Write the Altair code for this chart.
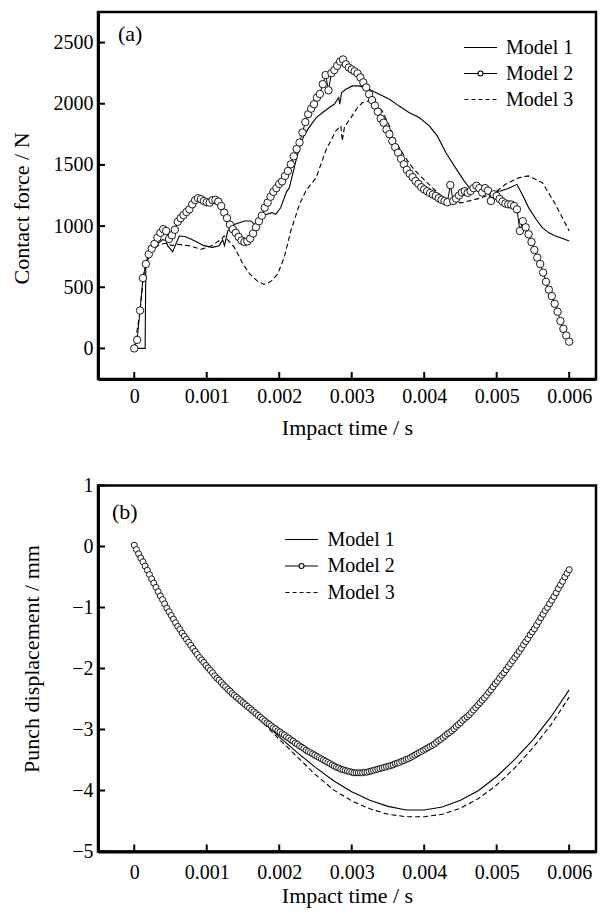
import altair as alt
import pandas as pd

FONT = "Liberation Serif"
models = ["Model 1", "Model 2", "Model 3"]
x_ticks = [0, 0.001, 0.002, 0.003, 0.004, 0.005, 0.006]
fa_ticks = [0, 500, 1000, 1500, 2000, 2500]
db_ticks = [-5, -4, -3, -2, -1, 0, 1]

# ---------- panel (a): contact force (N), time in ms ----------
m1a_t = [0, 0.15, 0.16, 0.23, 0.34, 0.39, 0.44, 0.46, 0.53, 0.62, 0.70, 0.78, 0.87, 0.96,
         1.08, 1.17, 1.22, 1.245, 1.29, 1.38, 1.52, 1.61, 1.66, 1.72, 1.80, 1.90, 1.95,
         2.02, 2.10, 2.14, 2.23, 2.28, 2.34, 2.41, 2.51, 2.60, 2.69, 2.76, 2.82, 2.835,
         2.86, 2.92, 3.01, 3.10, 3.24, 3.38, 3.52, 3.65, 3.79, 3.93, 4.07, 4.18, 4.30,
         4.43, 4.55, 4.64, 4.75, 4.85, 4.95, 5.05, 5.15, 5.28, 5.36, 5.44, 5.55, 5.63,
         5.72, 5.81, 5.90, 6.00]
m1a_f = [0, 0, 700, 810, 864, 890, 880, 840, 791, 919, 915, 895, 868, 840,
         826, 840, 887, 840, 960, 1014, 1042, 1042, 1014, 1020, 1090, 1110, 1096,
         1150, 1280, 1314, 1533, 1642, 1737, 1805, 1887, 1928, 1969, 1996, 2051, 1996,
         2092, 2119, 2146, 2146, 2119, 2078, 2037, 1983, 1928, 1887, 1819, 1737, 1600,
         1478, 1370, 1300, 1285, 1275, 1280, 1287, 1305, 1341, 1250, 1151, 1050, 987,
         945, 919, 900, 878]

m3a_t = [0, 0.08, 0.12, 0.16, 0.25, 0.35, 0.45, 0.52, 0.60, 0.78, 0.92, 1.06, 1.20, 1.24,
         1.38, 1.50, 1.59, 1.70, 1.79, 1.89, 1.98, 2.07, 2.16, 2.28, 2.37, 2.51, 2.64,
         2.78, 2.85, 2.87, 2.90, 2.99, 3.08, 3.15, 3.24, 3.33, 3.42, 3.52, 3.61, 3.74,
         3.85, 3.97, 4.16, 4.34, 4.53, 4.80, 4.98, 5.12, 5.31, 5.44, 5.63, 5.81, 6.00]
m3a_f = [0, 300, 560, 690, 800, 850, 860, 840, 851, 837, 810, 837, 892, 919,
         826, 690, 610, 550, 523, 550, 610, 746, 960, 1178, 1290, 1396, 1614,
         1778, 1819, 1696, 1810, 1887, 1969, 2010, 2024, 1996, 1942, 1819, 1683, 1560,
         1470, 1396, 1287, 1192, 1192, 1233, 1274, 1342, 1396, 1410, 1355, 1178, 960]

m2a_step = 0.04  # ms between Model 2 samples
m2a_f = [0, 70, 310, 575, 690, 770, 815, 855, 905, 945,
         975, 960, 895, 925, 970, 1035, 1065, 1090, 1115, 1137,
         1178, 1212, 1228, 1220, 1205, 1195, 1192, 1212, 1215, 1200,
         1164, 1110, 1065, 1012, 975, 945, 912, 882, 870, 875,
         898, 940, 990, 1040, 1085, 1150, 1192, 1240, 1280, 1310,
         1345, 1365, 1410, 1450, 1505, 1570, 1630, 1683, 1765, 1850,
         1915, 1960, 1996, 2050, 2080, 2160, 2235, 2110, 2250, 2275,
         2310, 2345, 2362, 2323, 2296, 2280, 2265, 2248, 2215, 2175,
         2133, 2078, 2030, 1985, 1935, 1880, 1845, 1790, 1751, 1695,
         1645, 1600, 1550, 1505, 1460, 1428, 1400, 1369, 1345, 1318,
         1300, 1285, 1270, 1258, 1246, 1228, 1215, 1205, 1195, 1335,
         1205, 1225, 1250, 1275, 1285, 1272, 1287, 1310, 1330, 1310,
         1274, 1310, 1290, 1205, 1260, 1246, 1222, 1200, 1185, 1178,
         1176, 1164, 1137, 960, 1040, 990, 933, 870, 805, 742,
         690, 620, 545, 480, 428, 365, 300, 224, 160, 105,
         55]

# ---------- panel (b): punch displacement (mm), time in ms ----------
mb_t = [0, 0.25, 0.5, 0.75, 1.0, 1.25, 1.5, 1.75, 2.0, 2.25, 2.5, 2.75, 3.0, 3.25,
        3.5, 3.75, 4.0, 4.25, 4.5, 4.75, 5.0, 5.25, 5.5, 5.75, 6.0]
m1b_d = [0.06, -0.52, -1.09, -1.56, -1.96, -2.30, -2.58, -2.84, -3.12, -3.38, -3.62,
         -3.84, -4.02, -4.16, -4.26, -4.32, -4.32, -4.27, -4.16, -4.00, -3.77, -3.49,
         -3.17, -2.79, -2.35]
m3b_d = [0.06, -0.52, -1.09, -1.56, -1.96, -2.30, -2.59, -2.86, -3.16, -3.45, -3.74,
         -3.99, -4.17, -4.30, -4.39, -4.43, -4.43, -4.39, -4.29, -4.13, -3.91, -3.63,
         -3.30, -2.92, -2.47]

m2b_step = 0.03  # ms between Model 2 samples
m2b_d = [0.02, -0.05, -0.12, -0.19, -0.25, -0.32, -0.39, -0.46, -0.53, -0.60,
         -0.67, -0.74, -0.81, -0.87, -0.94, -1.01, -1.07, -1.13, -1.19, -1.25,
         -1.31, -1.36, -1.42, -1.47, -1.52, -1.57, -1.62, -1.67, -1.72, -1.77,
         -1.82, -1.86, -1.90, -1.95, -1.99, -2.03, -2.07, -2.12, -2.16, -2.19,
         -2.23, -2.27, -2.30, -2.34, -2.37, -2.41, -2.44, -2.47, -2.50, -2.53,
         -2.56, -2.59, -2.62, -2.65, -2.68, -2.71, -2.74, -2.77, -2.80, -2.83,
         -2.86, -2.89, -2.91, -2.94, -2.97, -2.99, -3.02, -3.04, -3.07, -3.09,
         -3.12, -3.14, -3.17, -3.19, -3.22, -3.24, -3.27, -3.29, -3.31, -3.34,
         -3.36, -3.38, -3.40, -3.42, -3.44, -3.46, -3.48, -3.50, -3.52, -3.54,
         -3.56, -3.58, -3.60, -3.62, -3.63, -3.65, -3.66, -3.67, -3.68, -3.69,
         -3.70, -3.71, -3.71, -3.71, -3.71, -3.71, -3.70, -3.70, -3.69, -3.68,
         -3.67, -3.66, -3.65, -3.64, -3.63, -3.62, -3.61, -3.60, -3.59, -3.58,
         -3.56, -3.55, -3.54, -3.52, -3.51, -3.49, -3.48, -3.46, -3.44, -3.42,
         -3.40, -3.38, -3.36, -3.34, -3.32, -3.30, -3.28, -3.26, -3.24, -3.21,
         -3.18, -3.16, -3.13, -3.10, -3.07, -3.05, -3.02, -2.99, -2.95, -2.92,
         -2.89, -2.85, -2.82, -2.79, -2.76, -2.72, -2.68, -2.64, -2.60, -2.56,
         -2.52, -2.48, -2.44, -2.39, -2.35, -2.30, -2.25, -2.21, -2.16, -2.11,
         -2.07, -2.02, -1.97, -1.92, -1.87, -1.82, -1.77, -1.72, -1.67, -1.61,
         -1.56, -1.51, -1.45, -1.40, -1.35, -1.29, -1.23, -1.17, -1.11, -1.05,
         -1.00, -0.94, -0.88, -0.82, -0.76, -0.69, -0.63, -0.57, -0.50, -0.44,
         -0.38]

panel_labels = ["(a)", "(b)"]

# legend symbols (custom paths): solid line, line with circle, dashed line
P1 = "M-1.65,0H1.65"
P2 = "M-1.65,0H-0.25M0.25,0H1.65M-0.25,0A0.25,0.25,0,1,0,0.25,0A0.25,0.25,0,1,0,-0.25,0"
P3 = "M-1.6,0H-1.2M-0.9,0H-0.5M-0.2,0H0.2M0.5,0H0.9M1.2,0H1.6"

W = 498
HA = 367
HB = 366
XDOM = [-0.0005, 0.00637]
TICK = 7


def df_line(ts_ms, vals):
    return pd.DataFrame({"t": [t * 0.001 for t in ts_ms], "v": vals})


def df_step(step_ms, vals):
    return pd.DataFrame({"t": [i * step_ms * 0.001 for i in range(len(vals))], "v": vals})


def make_panel(lines_solid, lines_dashed, m2_df, ydom, yticks, ytitle, H,
               ytitle_pad, ytitle_y, xlab_pad, xtitle_pad, label, lab_x, lab_y,
               leg_x, leg_y, leg_row, leg_off, psize):
    x_enc = alt.X("t:Q", scale=alt.Scale(domain=XDOM, nice=False, zero=False),
                  axis=alt.Axis(values=x_ticks, format="~g", title="Impact time / s",
                                ticks=False, tickSize=0, labelPadding=xlab_pad,
                                titlePadding=xtitle_pad, grid=False, labelFlush=False))
    y_enc = alt.Y("v:Q", scale=alt.Scale(domain=ydom, nice=False, zero=False),
                  axis=alt.Axis(values=yticks, format="d", title=ytitle, ticks=False,
                                tickSize=0, labelPadding=5, titlePadding=ytitle_pad,
                                titleY=ytitle_y, grid=False, labelFlush=False))
    l1 = alt.Chart(lines_solid).mark_line(color="black", strokeWidth=1.1).encode(x=x_enc, y=y_enc)
    l3 = alt.Chart(lines_dashed).mark_line(color="black", strokeWidth=1.1,
                                           strokeDash=[5, 3]).encode(x=x_enc, y=y_enc)
    l2 = alt.Chart(m2_df).mark_line(color="black", strokeWidth=1).encode(x=x_enc, y=y_enc)
    p2 = alt.Chart(m2_df).mark_point(shape="circle", filled=True, fill="white",
                                     stroke="black", strokeWidth=0.9, size=psize,
                                     opacity=1).encode(x=x_enc, y=y_enc)
    xt = alt.Chart(pd.DataFrame({"t": x_ticks})).mark_rule(color="black", strokeWidth=2).encode(
        x=x_enc, y=alt.value(H), y2=alt.value(H - TICK))
    yt = alt.Chart(pd.DataFrame({"v": yticks})).mark_rule(color="black", strokeWidth=2).encode(
        y=y_enc, x=alt.value(0), x2=alt.value(TICK))
    txt = alt.Chart(pd.DataFrame({"label": [label]})).mark_text(
        align="left", baseline="middle", font=FONT, fontSize=22, color="black").encode(
        text="label:N", x=alt.value(lab_x), y=alt.value(lab_y))
    leg = alt.Chart(pd.DataFrame({"model": models})).mark_point(
        opacity=0, filled=False, color="black", size=1).encode(
        shape=alt.Shape("model:N", scale=alt.Scale(domain=models, range=[P1, P2, P3]),
                        legend=alt.Legend(orient="none", legendX=leg_x, legendY=leg_y,
                                          title=None, symbolSize=400, symbolStrokeWidth=1.1,
                                          symbolOpacity=1, symbolStrokeColor="black",
                                          symbolFillColor="white", labelFont=FONT,
                                          labelFontSize=20, labelColor="black",
                                          labelOffset=leg_off, rowPadding=leg_row,
                                          padding=0)))
    return alt.layer(l1, l3, l2, p2, xt, yt, txt, leg).properties(width=W, height=H)


pa = make_panel(df_line(m1a_t, m1a_f), df_line(m3a_t, m3a_f), df_step(m2a_step, m2a_f),
                [-250, 2750], fa_ticks, "Contact force / N", HA, 20, 196, 7, 11.5,
                panel_labels[0], 20, 22, 371.5, 24.5, 5, 14.5, 55)
pb = make_panel(df_line(mb_t, m1b_d), df_line(mb_t, m3b_d), df_step(m2b_step, m2b_d),
                [-5, 1], db_ticks, "Punch displacement / mm", HB, 28.5, 173, 11, 3,
                panel_labels[1], 14, 26, 192.5, 43, 5.5, 15, 36)

chart = alt.vconcat(pa, pb, spacing=33.5).resolve_scale(
    shape="independent", x="independent", y="independent").resolve_legend(
    shape="independent").properties(
    padding={"left": 0, "top": 2, "right": 0, "bottom": 0}).configure(
    font=FONT).configure_axis(
    labelFont=FONT, titleFont=FONT, labelFontSize=20, titleFontSize=22,
    titleFontWeight="normal", labelColor="black", titleColor="black",
    domainColor="black", domainWidth=3, grid=False).configure_view(
    stroke="black", strokeWidth=2.5)

chart.save("out.html", embed_options={"renderer": "svg", "actions": False})
